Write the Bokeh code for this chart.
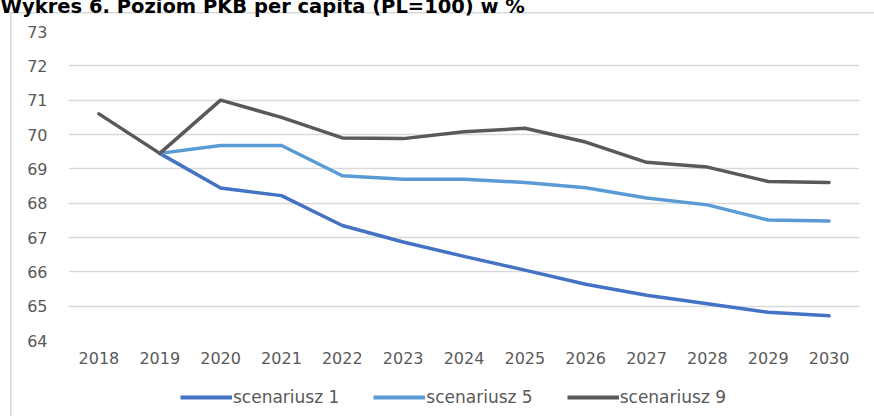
from bokeh.plotting import figure
from bokeh.layouts import column
from bokeh.models import (Range1d, FixedTicker, Legend, LegendItem,
                          ColumnDataSource)
from bokeh.embed import file_html
from bokeh.resources import INLINE

# ---- data ----
years = [2018, 2019, 2020, 2021, 2022, 2023, 2024, 2025, 2026, 2027, 2028, 2029, 2030]
tick_labels = [str(y) for y in years]
scen1_years = years[1:]
scen1 = [69.45, 68.44, 68.22, 67.35, 66.87, 66.45, 66.05, 65.64, 65.32, 65.07, 64.82, 64.72]
scen5_years = years[1:]
scen5 = [69.45, 69.68, 69.68, 68.80, 68.70, 68.70, 68.60, 68.45, 68.15, 67.95, 67.51, 67.48]
scen9_years = years
scen9 = [70.60, 69.45, 71.00, 70.50, 69.90, 69.88, 70.08, 70.18, 69.78, 69.19, 69.05, 68.63, 68.60]
series_names = ["scenariusz 1", "scenariusz 5", "scenariusz 9"]
series_colors = ["#4472C4", "#5B9BD5", "#595959"]
y_ticks = [64, 65, 66, 67, 68, 69, 70, 71, 72, 73]
title_text = "Wykres 6. Poziom PKB per capita (PL=100) w %"

FONT = "DejaVu Sans"

p = figure(frame_width=791, frame_height=309, output_backend="svg", toolbar_location=None,
           x_range=Range1d(years[0] - 0.5, years[-1] + 0.5),
           y_range=Range1d(y_ticks[0], y_ticks[-1]),
           min_border_left=68, min_border_right=15, min_border_top=56,
           min_border_bottom=40)
p.outline_line_color = None
p.background_fill_color = "white"
p.border_fill_alpha = 0

# title (its top is cut off by the window edge, as in the reference)
p.title.text = title_text
p.title.align = "left"
p.title.offset = -68
p.title.standoff = 28
p.title.text_font = FONT
p.title.text_font_style = "bold"
p.title.text_font_size = "19.5px"
p.title.text_color = "#000000"

# axes
p.xaxis.ticker = FixedTicker(ticks=years)
p.xaxis.major_label_overrides = {y: l for y, l in zip(years, tick_labels)}
p.yaxis.ticker = FixedTicker(ticks=y_ticks)
for ax in (p.xaxis[0], p.yaxis[0]):
    ax.axis_line_color = None
    ax.major_tick_line_color = None
    ax.minor_tick_line_color = None
    ax.major_label_text_font = FONT
    ax.major_label_text_font_size = "16px"
    ax.major_label_text_color = "#595959"
p.yaxis.major_label_standoff = 15
p.xaxis.major_label_standoff = 5

p.xgrid.grid_line_color = None
p.ygrid.grid_line_color = "#D9D9D9"
p.ygrid.grid_line_width = 1.5

# lines
series = [(scen1_years, scen1, series_colors[0]),
          (scen5_years, scen5, series_colors[1]),
          (scen9_years, scen9, series_colors[2])]
sources = []
for xs, ys, c in series:
    src = ColumnDataSource(dict(x=xs, y=ys))
    sources.append(src)
    p.line("x", "y", source=src, line_color=c, line_width=3.5,
           line_join="round", line_cap="round")

# legend strip (separate figure so the legend is not clipped by the plot frame);
# its renderers share the series data but lie outside this strip's ranges
lg = figure(width=874, height=40, output_backend="svg", toolbar_location=None,
            x_range=Range1d(0, 1), y_range=Range1d(0, 1),
            min_border_left=0, min_border_right=0, min_border_top=0,
            min_border_bottom=0)
lg.axis.visible = False
lg.grid.visible = False
lg.outline_line_color = None
lg.background_fill_alpha = 0
lg.border_fill_alpha = 0
legend_renderers = [lg.line("x", "y", source=src, line_color=c, line_width=4)
                    for src, (_, _, c) in zip(sources, series)]
legend = Legend(items=[LegendItem(label=n, renderers=[r])
                       for n, r in zip(series_names, legend_renderers)],
                orientation="horizontal", location=(112, 13),
                glyph_width=52, glyph_height=18, label_standoff=1, spacing=34,
                padding=0, margin=0, border_line_color=None,
                background_fill_alpha=0, label_text_font=FONT,
                label_text_font_size="17px", label_text_color="#595959")
lg.add_layout(legend, "center")

layout = column(p, lg, spacing=0)
layout.styles = {
    "margin-top": "-25px",
    "background-color": "white",
    "background-image": "linear-gradient(#D9D9D9, #D9D9D9), linear-gradient(#D9D9D9, #D9D9D9)",
    "background-size": "1.5px 100%, 100% 1.5px",
    "background-position": "10px 37px, 10px 37px",
    "background-repeat": "no-repeat",
}

open("out.html", "w").write(file_html(layout, INLINE))
